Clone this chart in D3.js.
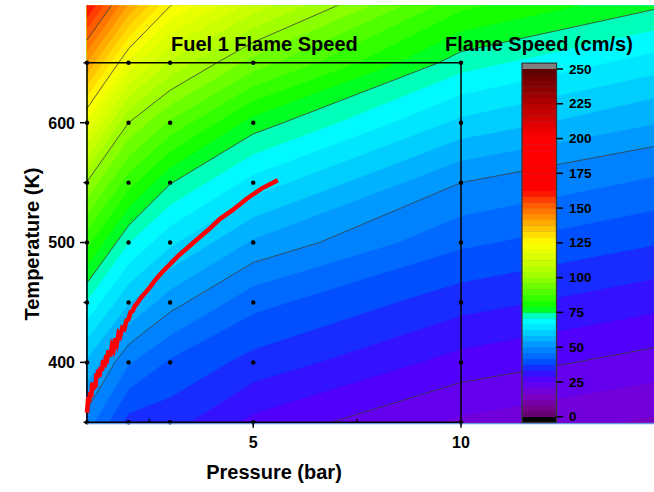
<!DOCTYPE html>
<html><head><meta charset="utf-8">
<script src="https://cdn.jsdelivr.net/npm/d3@7"></script>
<style>
body{margin:0;background:#fff}
svg{display:block}
text{font-family:Arial,"Liberation Sans",sans-serif;font-weight:bold;fill:#000}
</style>
</head><body>
<svg id="chart" width="654" height="492"></svg>
<script>
// ---------- data ----------
const pressures    = [1, 2, 3, 5, 10, 20];                       // bar
const temperatures = [350, 400, 450, 500, 550, 600, 650, 700];   // K
// flame speed (cm/s) at each pressure, listed by temperature
const speedAtP1  = [48, 57.5, 70.4, 84.6, 99.7, 119.8, 141.5, 163.8];
const speedAtP2  = [36, 46.3, 58.7, 71.0, 85.1, 100, 119.8, 142];
const speedAtP3  = [35, 41, 51.7, 63.4, 75.3, 90.9, 107.7, 126];
const speedAtP5  = [28, 36, 43, 53.5, 65, 77.3, 94, 111.5];
const speedAtP10 = [20, 27.5, 35, 42.5, 50, 61.4, 72.7, 85];
const speedAtP20 = [11.3, 18.4, 25.4, 32.5, 39.5, 46.6, 55.6, 66.4];

// measured sample points (black dots)
const samplePressures = [1, 2, 3, 5, 10];
const sampleTemps     = [350, 400, 450, 500, 550, 600, 650, 700];
const missingSample   = [[5, 700]];

// red trajectory
const redPressure = [1.00,1.03,1.05,1.08,1.10,1.13,1.15,1.18,1.20,1.23,1.25,1.28,1.30,1.33,1.36,1.39,1.42,1.45,1.48,1.52,1.56,1.60,1.64,1.68,1.72,1.76,1.80,1.85,1.90,1.95,2.00,2.05,2.10,2.15,2.20,2.30,2.40,2.52,2.65,2.80,3.00,3.20,3.40,3.66,3.90,4.21,4.50,4.86,5.20,5.59];
const redTemp     = [358,371,367,375,371,383,377,383,379,391,387,394,388,396,393,402,396,403,402,410,405,414,411,420,416,424,422,429,428,435,436,442,443,447,449,454,458,463,469,475,482,489,495,503,510,520,527,537,545,552];

// colour map
const cmapValues = [0, 6, 14, 22, 28, 34, 40, 48, 55, 62, 68, 71, 75, 78, 84, 100, 112, 125, 135, 145, 155, 163, 200, 225, 250];
const cmapColors = ["#5e0062","#74008a","#7a00c0","#6a00ec","#4c00ff","#2020ff","#0052ff","#0082ff","#00aaff","#00d8ff","#00f8ff","#00ffff","#00ff70","#00ff00","#28ff00","#98ff00","#d0ff00","#ffff00","#ffc800","#ff8800","#ff4a00","#ff0000","#ff0000","#b40000","#5a0000"];
const bandCount = 60, bandMax = 250;
const lineLevels = [25, 50, 75, 100, 125, 150];

// ticks
const xTicks = [5, 10], xMinorTicks = [2.5, 7.5];
const yTicks = [400, 500, 600], yMinorTicks = [350, 450, 550, 650];
const cbTicks = [0, 25, 50, 75, 100, 125, 150, 175, 200, 225, 250];

// ---------- drawing ----------
const svg = d3.select("#chart");
const x = d3.scaleLinear().domain([1, 10]).range([87, 461]);
const y = d3.scaleLinear().domain([350, 650]).range([422.3, 62.8]);
const cmap = d3.scaleLinear().domain(cmapValues).range(cmapColors).interpolate(d3.interpolateRgb);
const step = bandMax / bandCount;

const nP = pressures.length, nT = temperatures.length;
const columns = [speedAtP1, speedAtP2, speedAtP3, speedAtP5, speedAtP10, speedAtP20];
const grid = new Array(nP * nT);
for (let j = 0; j < nT; j++) for (let i = 0; i < nP; i++) grid[j * nP + i] = columns[i][j];

const idxP = d3.scaleLinear().domain(d3.range(nP)).range(pressures).clamp(true);
const idxT = d3.scaleLinear().domain(d3.range(nT)).range(temperatures).clamp(true);
const toPx = (cx, cy) => [x(idxP(cx - 0.5)), y(idxT(cy - 0.5))];
const proj = d3.geoTransform({ point(cx, cy) { const p = toPx(cx, cy); this.stream.point(p[0], p[1]); } });
const gpath = d3.geoPath(proj);

svg.append("defs").append("clipPath").attr("id", "plotclip")
  .append("rect").attr("x", 0).attr("y", 5.5).attr("width", 654).attr("height", 492);

const plot = svg.append("g").attr("clip-path", "url(#plotclip)");

// filled bands
const thresholds = d3.range(bandCount).map(k => k * step);
const bands = d3.contours().size([nP, nT]).thresholds(thresholds)(grid);
plot.append("g").selectAll("path").data(bands).join("path")
  .attr("d", gpath)
  .attr("fill", (d, k) => cmap((k + 0.5) * step))
  .attr("stroke", (d, k) => cmap((k + 0.5) * step))
  .attr("stroke-width", 0.3);

// contour lines (skip segments that lie along the grid border)
const lines = d3.contours().size([nP, nT]).thresholds(lineLevels)(grid);
const eps = 1e-6;
function edges(cx, cy) {
  const ux = Math.max(0, Math.min(nP - 1, cx - 0.5)), uy = Math.max(0, Math.min(nT - 1, cy - 0.5));
  return [ux < eps, ux > nP - 1 - eps, uy < eps, uy > nT - 1 - eps];
}
function isoPath(mp) {
  let s = "";
  mp.coordinates.forEach(poly => poly.forEach(ring => {
    let pen = false;
    for (let k = 1; k < ring.length; k++) {
      const a = ring[k - 1], b = ring[k];
      const ea = edges(a[0], a[1]), eb = edges(b[0], b[1]);
      const border = ea.some((v, i) => v && eb[i]);
      if (border) { pen = false; continue; }
      const pa = toPx(a[0], a[1]), pb = toPx(b[0], b[1]);
      if (!pen) { s += "M" + pa[0].toFixed(2) + "," + pa[1].toFixed(2); pen = true; }
      s += "L" + pb[0].toFixed(2) + "," + pb[1].toFixed(2);
    }
  }));
  return s;
}
plot.append("g").selectAll("path").data(lines).join("path")
  .attr("d", isoPath).attr("fill", "none").attr("stroke", "#3c3c3c").attr("stroke-width", 0.8);

// thin light line under the field
svg.append("rect").attr("x", 87).attr("y", 423.2).attr("width", 567).attr("height", 1).attr("fill", "#3d7fe4");

// axes frame
const ax = svg.append("g").attr("stroke", "#000").attr("stroke-width", 1.5).attr("fill", "none");
ax.append("path").attr("d", `M${x(1)},${y(650)}H${x(10)}V${y(350)}H${x(1)}Z`);
yTicks.forEach(t => ax.append("line").attr("x1", 80).attr("x2", x(1)).attr("y1", y(t)).attr("y2", y(t)));
yMinorTicks.forEach(t => ax.append("line").attr("x1", 83.5).attr("x2", x(1)).attr("y1", y(t)).attr("y2", y(t)));
xTicks.forEach(p => ax.append("line").attr("x1", x(p)).attr("x2", x(p)).attr("y1", y(350)).attr("y2", y(350) + 5.5));
xMinorTicks.forEach(p => ax.append("line").attr("x1", x(p)).attr("x2", x(p)).attr("y1", y(350)).attr("y2", y(350) - 3));

// sample dots
const dots = [];
samplePressures.forEach(p => sampleTemps.forEach(t => {
  if (!missingSample.some(m => m[0] === p && m[1] === t)) dots.push([p, t]);
}));
plot.append("g").selectAll("circle").data(dots).join("circle")
  .attr("cx", d => x(d[0])).attr("cy", d => y(d[1])).attr("r", 2.2).attr("fill", "#000");

// red curve
const redData = redPressure.map((p, i) => [p, redTemp[i]]);
svg.append("path").datum(redData)
  .attr("d", d3.line().x(d => x(d[0])).y(d => y(d[1])))
  .attr("fill", "none").attr("stroke", "#ff0000").attr("stroke-width", 4.5).attr("stroke-linejoin", "miter");

// tick labels
yTicks.forEach(t => svg.append("text").attr("x", 75).attr("y", y(t) + 5.8).attr("text-anchor", "end").attr("font-size", 16).text(t));
xTicks.forEach(p => svg.append("text").attr("x", x(p)).attr("y", 448).attr("text-anchor", "middle").attr("font-size", 16).text(p));

// axis titles
svg.append("text").attr("x", 274).attr("y", 479).attr("text-anchor", "middle").attr("font-size", 20).text("Pressure (bar)");
svg.append("text").attr("transform", "translate(39,244) rotate(-90)").attr("text-anchor", "middle").attr("font-size", 20).text("Temperature (K)");

// titles
svg.append("text").attr("x", 171).attr("y", 51).attr("font-size", 20).text("Fuel 1 Flame Speed");
svg.append("text").attr("x", 445).attr("y", 51).attr("font-size", 20).text("Flame Speed (cm/s)");

// colour bar
const cb = d3.scaleLinear().domain([0, 250]).range([416.7, 69]);
const cbx = 522, cbw = 34.5;
const cbg = svg.append("g");
cbg.append("rect").attr("x", cbx).attr("y", cb(0)).attr("width", cbw).attr("height", cb(-step) - cb(0)).attr("fill", "#000");
cbg.selectAll("rect.band").data(thresholds).join("rect").attr("class", "band")
  .attr("x", cbx).attr("width", cbw)
  .attr("y", d => cb(d + step)).attr("height", d => cb(d) - cb(d + step) + 0.4)
  .attr("fill", d => cmap(d + step / 2));
cbg.append("rect").attr("x", cbx).attr("y", cb(250 + step)).attr("width", cbw).attr("height", cb(250) - cb(250 + step)).attr("fill", "#808080");
cbg.append("rect").attr("x", cbx).attr("y", cb(250 + step)).attr("width", cbw).attr("height", cb(-step) - cb(250 + step))
  .attr("fill", "none").attr("stroke", "#3a3a3a").attr("stroke-width", 1.3);
cbTicks.forEach(v => {
  cbg.append("line").attr("x1", cbx + cbw).attr("x2", cbx + cbw + 6.5).attr("y1", cb(v)).attr("y2", cb(v)).attr("stroke", "#000").attr("stroke-width", 1.5);
  cbg.append("text").attr("x", 569).attr("y", cb(v) + 4.6).attr("font-size", 13.5).text(v);
});
</script>
</body></html>
